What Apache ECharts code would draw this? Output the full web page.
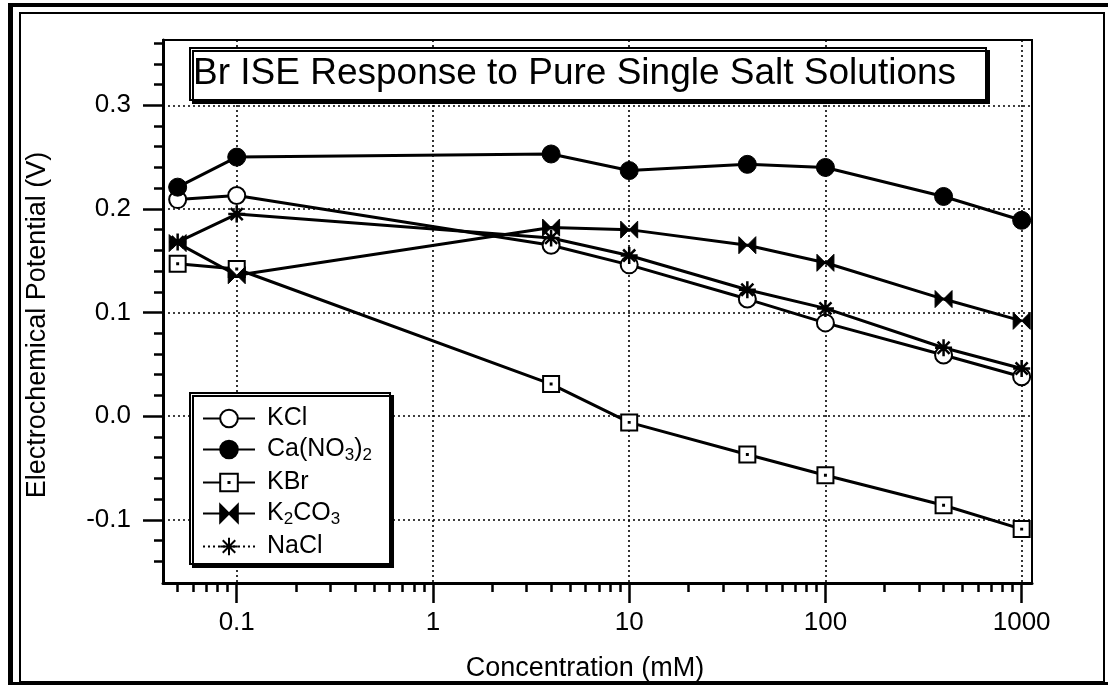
<!DOCTYPE html>
<html><head><meta charset="utf-8">
<script src="https://cdn.jsdelivr.net/npm/echarts@6/dist/echarts.min.js"></script>
<style>html,body{margin:0;padding:0;background:#fff}#chart{width:1108px;height:685px}</style>
</head><body><div id="chart"></div>
<script>
// ---- data ----
const concentrations = [0.05, 0.1, 4, 10, 40, 100, 400, 1000];
const kclValues   = [0.209, 0.213, 0.165, 0.146, 0.113, 0.090, 0.059, 0.038];
const caNo3Values = [0.221, 0.250, 0.253, 0.237, 0.243, 0.240, 0.212, 0.189];
const kbrValues   = [0.147, 0.142, 0.031, -0.006, -0.037, -0.057, -0.086, -0.109];
const k2co3Values = [0.167, 0.136, 0.182, 0.180, 0.165, 0.148, 0.113, 0.092];
const naclValues  = [0.168, 0.195, 0.172, 0.155, 0.122, 0.104, 0.066, 0.046];

const xMajorTicks = [0.1, 1, 10, 100, 1000];
const xMinorTicks = [0.05, 0.06, 0.07, 0.08, 0.09,
  0.2, 0.3, 0.4, 0.5, 0.6, 0.7, 0.8, 0.9,
  2, 3, 4, 5, 6, 7, 8, 9,
  20, 30, 40, 50, 60, 70, 80, 90,
  200, 300, 400, 500, 600, 700, 800, 900];
const yMajorTicks = [-0.1, 0.0, 0.1, 0.2, 0.3];
const yMinorTicks = [-0.14, -0.12, -0.08, -0.06, -0.04, -0.02,
  0.02, 0.04, 0.06, 0.08, 0.12, 0.14, 0.16, 0.18,
  0.22, 0.24, 0.26, 0.28, 0.32, 0.34, 0.36];

const seriesNames = ['KCl', 'Ca(NO3)2', 'KBr', 'K2CO3', 'NaCl'];
const legendLabels = {
  'KCl': 'KCl',
  'Ca(NO3)2': 'Ca(NO{sub|3}){sub|2}',
  'KBr': 'KBr',
  'K2CO3': 'K{sub|2}CO{sub|3}',
  'NaCl': 'NaCl'
};
const titleText = 'Br ISE Response to Pure Single Salt Solutions';
const xName = 'Concentration (mM)';
const yName = 'Electrochemical Potential (V)';

// ---- styling ----
const FONT = '"Liberation Sans", Arial, Helvetica, sans-serif';
const BOWTIE = 'path://M0,0L8,8L0,16Z M16,0L8,8L16,16Z';
const SQUARE = 'path://M0,0H20V20H0Z M9.4,9.4H10.6V10.6H9.4Z';
const STAR = 'path://M10,0V20 M0,10H20 M2.9,2.9L17.1,17.1 M17.1,2.9L2.9,17.1';

function pairs(vals) { return concentrations.map((c, i) => [c, vals[i]]); }
const lineStyle = { color: '#000', width: 3 };

const chart = echarts.init(document.getElementById('chart'), null, { renderer: 'canvas' });
chart.setOption({
  animation: false,
  backgroundColor: '#fff',
  textStyle: { fontFamily: FONT, color: '#000' },
  title: {
    text: titleText, left: 190, top: 48,
    padding: [5, 30, 5, 3],
    borderColor: '#000', borderWidth: 2, backgroundColor: '#fff',
    shadowColor: '#000', shadowOffsetX: 3, shadowOffsetY: 3, shadowBlur: 0,
    textStyle: { fontFamily: FONT, fontSize: 37, fontWeight: 'normal', color: '#000', lineHeight: 42 }
  },
  legend: {
    orient: 'vertical', left: 190, top: 393,
    padding: [13, 18, 5, 12],
    itemWidth: 52, itemHeight: 22, itemGap: 6,
    borderColor: '#000', borderWidth: 2, backgroundColor: '#fff',
    shadowColor: '#000', shadowOffsetX: 3, shadowOffsetY: 3, shadowBlur: 0,
    data: seriesNames.map(n => n === 'NaCl'
      ? { name: n, lineStyle: { type: [2, 3], width: 2 } }
      : { name: n }),
    formatter: n => legendLabels[n],
    selectedMode: false,
    textStyle: {
      fontFamily: FONT, fontSize: 25, color: '#000', padding: [0, 0, 0, 7],
      rich: { sub: { fontFamily: FONT, fontSize: 17, color: '#000', padding: [12, 0, 0, 0] } }
    }
  },
  grid: {
    left: 163, right: 76, top: 40, bottom: 102,
    show: true, borderColor: '#000', borderWidth: 2,
    containLabel: false, outerBoundsMode: 'none'
  },
  xAxis: [
    {
      type: 'log', logBase: 10, min: 0.0421, max: 1129, position: 'bottom',
      name: xName, nameLocation: 'middle', nameGap: 72,
      nameTextStyle: { fontFamily: FONT, fontSize: 27, color: '#000', padding: [0, 25, 0, 0] },
      axisLine: { show: true, onZero: false, lineStyle: { color: '#000', width: 3 } },
      axisTick: { show: true, customValues: xMajorTicks, length: 20, lineStyle: { color: '#000', width: 2.5 } },
      axisLabel: {
        show: true, customValues: xMajorTicks, margin: 27,
        fontFamily: FONT, fontSize: 26, color: '#000',
        formatter: v => String(Math.round(v * 10) / 10)
      },
      splitLine: { show: true, lineStyle: { color: '#000', width: 1.6, type: [2, 3] } },
      minorTick: { show: false }
    },
    {
      type: 'log', logBase: 10, min: 0.0421, max: 1129, position: 'bottom', offset: 0,
      axisLine: { show: false, onZero: false },
      axisTick: { show: true, customValues: xMinorTicks, length: 9, lineStyle: { color: '#000', width: 2.5 } },
      axisLabel: { show: false },
      splitLine: { show: false }
    }
  ],
  yAxis: [
    {
      type: 'value', min: -0.161, max: 0.363, position: 'left',
      name: yName, nameLocation: 'middle', nameGap: 112,
      nameTextStyle: { fontFamily: FONT, fontSize: 27, color: '#000', padding: [0, 27, 0, 0] },
      axisLine: { show: true, onZero: false, lineStyle: { color: '#000', width: 3 } },
      axisTick: { show: true, customValues: yMajorTicks, length: 20, lineStyle: { color: '#000', width: 2.5 } },
      axisLabel: {
        show: true, customValues: yMajorTicks, margin: 32,
        fontFamily: FONT, fontSize: 26, color: '#000',
        formatter: v => v.toFixed(1)
      },
      splitLine: { show: true, lineStyle: { color: '#000', width: 1.6, type: [2, 3] } }
    },
    {
      type: 'value', min: -0.161, max: 0.363, position: 'left', offset: 0,
      axisLine: { show: false, onZero: false },
      axisTick: { show: true, customValues: yMinorTicks, length: 9, lineStyle: { color: '#000', width: 2.5 } },
      axisLabel: { show: false },
      splitLine: { show: false }
    }
  ],
  series: [
    {
      name: 'KCl', type: 'line', data: pairs(kclValues),
      symbol: 'circle', symbolSize: 17,
      itemStyle: { color: '#fff', borderColor: '#000', borderWidth: 2 },
      lineStyle: lineStyle, z: 3
    },
    {
      name: 'Ca(NO3)2', type: 'line', data: pairs(caNo3Values),
      symbol: 'circle', symbolSize: 18,
      itemStyle: { color: '#000', borderColor: '#000', borderWidth: 1 },
      lineStyle: lineStyle, z: 4
    },
    {
      name: 'KBr', type: 'line', data: pairs(kbrValues),
      symbol: SQUARE, symbolSize: 16,
      itemStyle: { color: '#fff', borderColor: '#000', borderWidth: 2 },
      lineStyle: lineStyle, z: 3
    },
    {
      name: 'K2CO3', type: 'line', data: pairs(k2co3Values),
      symbol: BOWTIE, symbolSize: 17,
      itemStyle: { color: '#000', borderColor: '#000', borderWidth: 1 },
      lineStyle: lineStyle, z: 3
    },
    {
      name: 'NaCl', type: 'line', data: pairs(naclValues),
      symbol: STAR, symbolSize: 17,
      itemStyle: { color: 'rgba(0,0,0,0)', borderColor: '#000', borderWidth: 2.5 },
      lineStyle: lineStyle, z: 3
    }
  ],
  graphic: [
    { type: 'rect', silent: true, shape: { x: 20, y: 13, width: 1084, height: 669 },
      style: { fill: null, stroke: '#000', lineWidth: 2 } },
    { type: 'line', silent: true, shape: { x1: 10.5, y1: 3, x2: 10.5, y2: 685 },
      style: { stroke: '#000', lineWidth: 5 } },
    { type: 'line', silent: true, shape: { x1: 8, y1: 5, x2: 1108, y2: 5 },
      style: { stroke: '#000', lineWidth: 4 } },
    { type: 'line', silent: true, shape: { x1: 8, y1: 683.5, x2: 1108, y2: 683.5 },
      style: { stroke: '#000', lineWidth: 3 } }
  ]
});
</script></body></html>
